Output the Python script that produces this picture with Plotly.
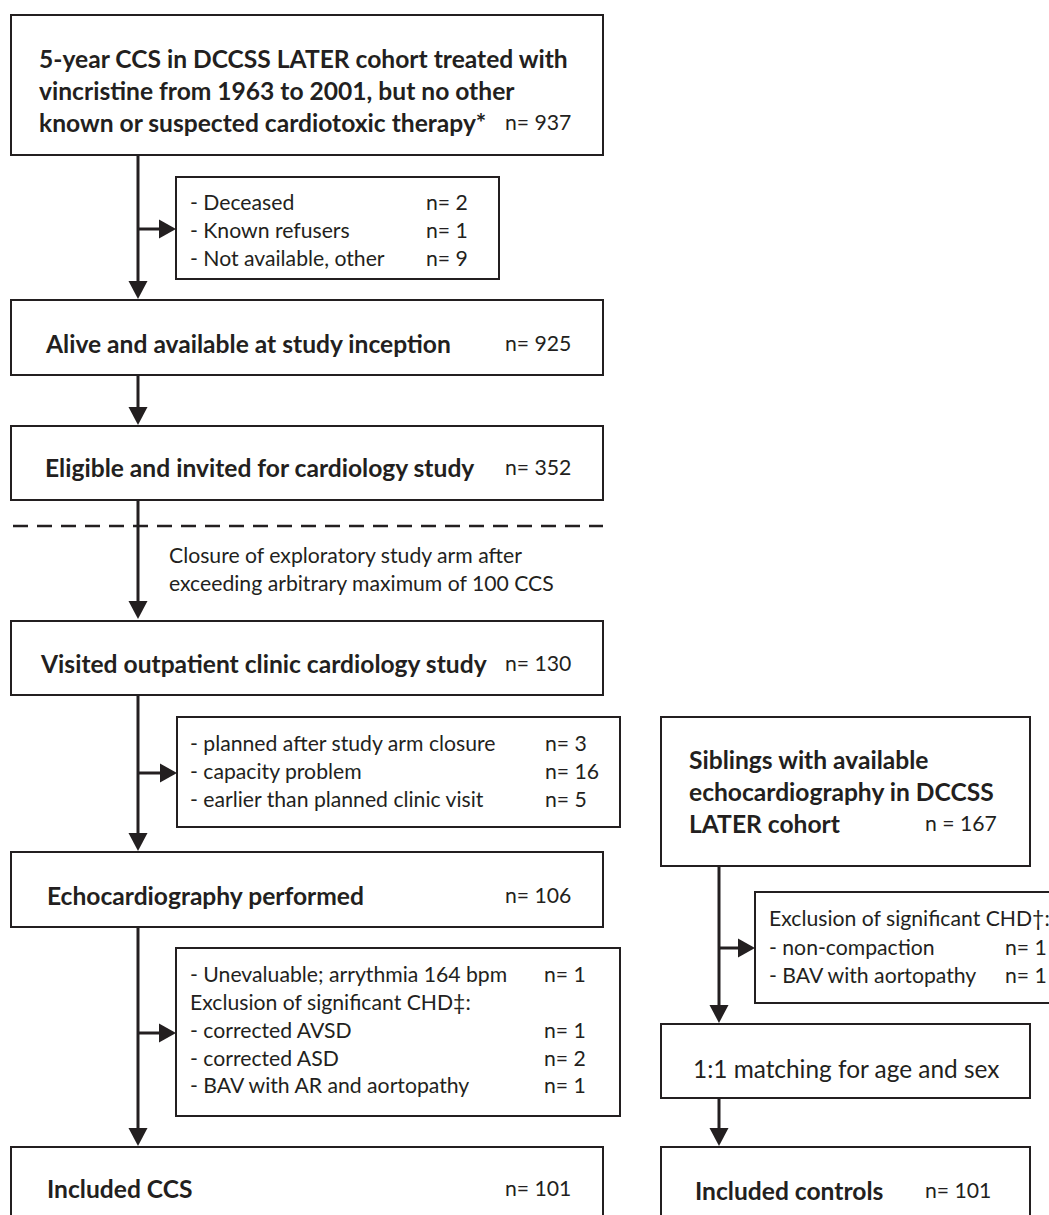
import plotly.graph_objects as go

# ---------------- data ----------------
main_titles = [
    "5-year CCS in DCCSS LATER cohort treated with<br>vincristine from 1963 to 2001, but no other<br>known or suspected cardiotoxic therapy*",
    "Alive and available at study inception",
    "Eligible and invited for cardiology study",
    "Visited outpatient clinic cardiology study",
    "Echocardiography performed",
    "Included CCS",
]
main_n = [937, 925, 352, 130, 106, 101]

excl1_labels = ["- Deceased", "- Known refusers", "- Not available, other"]
excl1_n = [2, 1, 9]
excl2_labels = ["- planned after study arm closure", "- capacity problem", "- earlier than planned clinic visit"]
excl2_n = [3, 16, 5]
excl3_labels = ["- Unevaluable; arrythmia 164 bpm", "Exclusion of significant CHD‡:", "- corrected AVSD",
                "- corrected ASD", "- BAV with AR and aortopathy"]
excl3_n = [1, None, 1, 2, 1]

closure_text = "Closure of exploratory study arm after<br>exceeding arbitrary maximum of 100 CCS"

sib_title = "Siblings with available<br>echocardiography in DCCSS<br>LATER cohort"
sib_n = 167
sib_excl_labels = ["Exclusion of significant CHD†:", "- non-compaction", "- BAV with aortopathy"]
sib_excl_n = [None, 1, 1]
matching_text = "1:1 matching for age and sex"
controls_title = "Included controls"
controls_n = 101

# ---------------- layout geometry ----------------
W, H = 1049, 1215
INK = "#231f20"
FONT = "Lato"
BOLD_SIZE = 24.6
NORM_SIZE = 21.2

shapes = []
annotations = []


def rect(x0, y0, x1, y1, w=2):
    shapes.append(dict(type="rect", x0=x0, y0=y0, x1=x1, y1=y1, xref="x", yref="y",
                       line=dict(color=INK, width=w), fillcolor="rgba(0,0,0,0)"))


def line(x0, y0, x1, y1, w=3, dash=None):
    d = dict(color=INK, width=w)
    if dash:
        d["dash"] = dash
    shapes.append(dict(type="line", x0=x0, y0=y0, x1=x1, y1=y1, xref="x", yref="y", line=d))


def down_arrow(x, y_tip, hw=9.5, h=18):
    shapes.append(dict(type="path", xref="x", yref="y",
                       path=f"M {x-hw} {y_tip-h} L {x+hw} {y_tip-h} L {x} {y_tip} Z",
                       fillcolor=INK, line=dict(color=INK, width=0)))


def right_arrow(x_tip, y, hh=9.5, l=17):
    shapes.append(dict(type="path", xref="x", yref="y",
                       path=f"M {x_tip-l} {y-hh} L {x_tip-l} {y+hh} L {x_tip} {y} Z",
                       fillcolor=INK, line=dict(color=INK, width=0)))


def text(x, y, s, bold=False, size=None, anchor="left"):
    if size is None:
        size = BOLD_SIZE if bold else NORM_SIZE
    annotations.append(dict(x=x, y=y, xref="x", yref="y", text=(f"<b>{s}</b>" if bold else s),
                            showarrow=False, xanchor=anchor, yanchor="middle", align="left",
                            font=dict(family=FONT, size=size, color=INK)))


# main column boxes (y0, y1, text x, text y)
main_boxes = [
    (15, 155, 37, 90),
    (300, 375, 43, 343),
    (426, 500, 43, 467),
    (621, 695, 38, 663),
    (852, 927, 45, 895),
    (1147, 1225, 45, 1188),
]
TRUNK = 138
BX0, BX1 = 11, 603
N_X = 503

for i, (y0, y1, tx, ty) in enumerate(main_boxes):
    rect(BX0, y0, BX1, y1)
    text(tx, ty, main_titles[i], bold=True)
    text(N_X, 122 if i == 0 else ty, f"n= {main_n[i]}")

# lines / arrows between main boxes
line(TRUNK, 155, TRUNK, 285)
down_arrow(TRUNK, 299)
line(TRUNK, 375, TRUNK, 412)
down_arrow(TRUNK, 425)
line(TRUNK, 500, TRUNK, 605)
down_arrow(TRUNK, 619)
line(TRUNK, 695, TRUNK, 838)
down_arrow(TRUNK, 851)
line(TRUNK, 927, TRUNK, 1133)
down_arrow(TRUNK, 1146)

# dashed separator
line(13, 526, 603, 526, w=2.5, dash="15px,9px")
text(167, 569, closure_text)

# exclusion box 1
rect(176, 177, 499, 279)
line(TRUNK, 229, 162, 229)
right_arrow(176, 229)
for lbl, n, yy in zip(excl1_labels, excl1_n, [202, 230, 258]):
    text(188, yy, lbl)
    text(424, yy, f"n= {n}")

# exclusion box 2
rect(177, 717, 620, 827)
line(TRUNK, 773, 162, 773)
right_arrow(177, 773)
for lbl, n, yy in zip(excl2_labels, excl2_n, [743, 771, 799]):
    text(188, yy, lbl)
    text(543, yy, f"n= {n}")

# exclusion box 3
rect(176, 948, 620, 1116)
line(TRUNK, 1033, 162, 1033)
right_arrow(176, 1033)
for lbl, n, yy in zip(excl3_labels, excl3_n, [974, 1002, 1030, 1058, 1085]):
    text(188, yy, lbl)
    if n is not None:
        text(542, yy, f"n= {n}")

# right column (siblings)
RTRUNK = 719
rect(661, 717, 1030, 866)
text(687, 791, sib_title, bold=True)
text(923, 823, f"n = {sib_n}")

rect(755, 892, 1065, 1003)
line(RTRUNK, 866, RTRUNK, 1008)
down_arrow(RTRUNK, 1023)
line(RTRUNK, 948, 740, 948)
right_arrow(755, 948)
for lbl, n, yy in zip(sib_excl_labels, sib_excl_n, [918, 947, 975]):
    text(767, yy, lbl)
    if n is not None:
        text(1003, yy, f"n= {n}")

rect(661, 1024, 1030, 1098)
text(845.5, 1068, matching_text, size=24.4, anchor="center")

line(RTRUNK, 1098, RTRUNK, 1131)
down_arrow(RTRUNK, 1146)
rect(661, 1147, 1030, 1225)
text(693, 1190, controls_title, bold=True)
text(923, 1190, f"n= {controls_n}")

fig = go.Figure()
fig.update_layout(
    width=W, height=H,
    margin=dict(l=0, r=0, t=0, b=0),
    paper_bgcolor="white", plot_bgcolor="white",
    xaxis=dict(range=[0, W], visible=False, fixedrange=True),
    yaxis=dict(range=[H, 0], visible=False, fixedrange=True),
    shapes=shapes, annotations=annotations, showlegend=False,
)
fig.write_html("out.html", config={"displayModeBar": False},
               post_script="document.body.style.margin='0';document.body.style.overflow='hidden';")
